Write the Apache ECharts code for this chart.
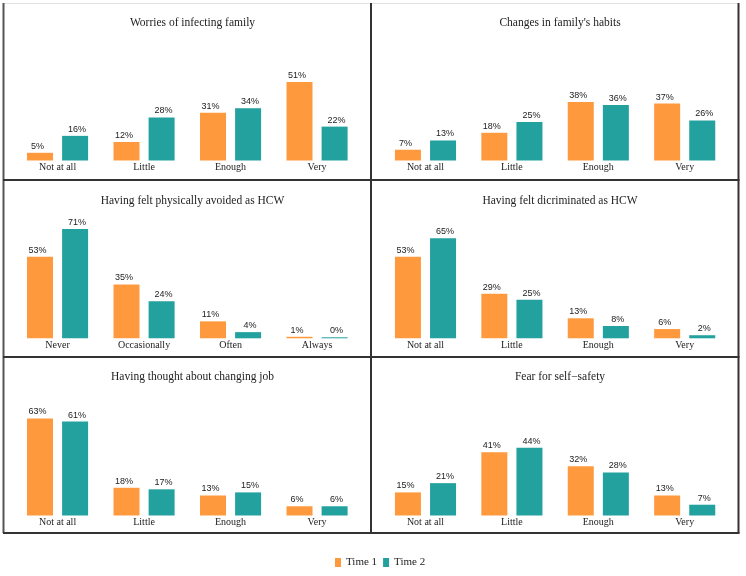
<!DOCTYPE html>
<html>
<head>
<meta charset="utf-8">
<script src="https://cdn.jsdelivr.net/npm/echarts@6/dist/echarts.min.js"></script>
<style>html,body{margin:0;padding:0;background:#fff}#c{width:746px;height:576px}</style>
</head>
<body>
<div id="c"></div>
<script>
var catsA = ['Not at all', 'Little', 'Enough', 'Very'];
var catsB = ['Never', 'Occasionally', 'Often', 'Always'];
var titles = ['Worries of infecting family', "Changes in family's habits", 'Having felt physically avoided as HCW', 'Having felt dicriminated as HCW', 'Having thought about changing job', 'Fear for self\u2212safety'];
var panelCats = [catsA, catsA, catsB, catsA, catsA, catsA];
var time1 = [
  [5, 12, 31, 51],
  [7, 18, 38, 37],
  [53, 35, 11, 1],
  [53, 29, 13, 6],
  [63, 18, 13, 6],
  [15, 41, 32, 13]
];
var time2 = [
  [16, 28, 34, 22],
  [13, 25, 36, 26],
  [71, 24, 4, 0],
  [65, 25, 8, 2],
  [61, 17, 15, 6],
  [21, 44, 28, 7]
];
var seriesNames = ['Time 1', 'Time 2'];

var ORANGE = '#FE9A3D', TEAL = '#22A19E';
var colLeft = [14.3, 382.3], colWidth = [346, 345.6];
var baselines = [160.5, 338.3, 515.5];
var titleY = [19, 196.5, 373.3];
var colCenter = [187.5, 555];
var plotH = 154;

var grids = [], xAxes = [], yAxes = [], series = [], tts = [];
for (var i = 0; i < 6; i++) {
  var r = Math.floor(i / 2), c = i % 2;
  grids.push({left: colLeft[c], width: colWidth[c], top: baselines[r] - plotH, height: plotH});
  xAxes.push({type: 'category', gridIndex: i, data: panelCats[i],
    axisLine: {show: false}, axisTick: {show: false}, splitLine: {show: false},
    axisLabel: {margin: 2, fontFamily: 'Liberation Serif', fontSize: 10, color: '#222'}});
  yAxes.push({type: 'value', gridIndex: i, min: 0, max: 100, show: false});
  tts.push({text: titles[i], left: colCenter[c], top: titleY[r] - 7, textAlign: 'center',
    textStyle: {fontFamily: 'Liberation Serif', fontSize: 11.5, fontWeight: 'normal', color: '#222'}});
  [time1[i], time2[i]].forEach(function (vals, s) {
    series.push({
      name: seriesNames[s], type: 'bar', xAxisIndex: i, yAxisIndex: i, data: vals,
      barWidth: 26, barGap: '35%', barMinHeight: 1,
      itemStyle: {color: s === 0 ? ORANGE : TEAL},
      label: {show: true, position: 'top', distance: 2, offset: [s === 0 ? -2.5 : 2, 0],
        formatter: '{c}%', fontFamily: 'Liberation Sans', fontSize: 9, color: '#222'},
      emphasis: {disabled: true}, animation: false
    });
  });
}

var lineStyle = {stroke: '#333', lineWidth: 2};
var graphics = [
  {type: 'line', shape: {x1: 4, y1: 3.5, x2: 739, y2: 3.5}, style: {stroke: '#e2e2e2', lineWidth: 1}},
  {type: 'line', shape: {x1: 3.5, y1: 3, x2: 3.5, y2: 533}, style: {stroke: '#555', lineWidth: 2}},
  {type: 'line', shape: {x1: 738.5, y1: 3, x2: 738.5, y2: 533}, style: lineStyle},
  {type: 'line', shape: {x1: 3, y1: 533, x2: 739.5, y2: 533}, style: lineStyle},
  {type: 'line', shape: {x1: 371, y1: 3, x2: 371, y2: 533}, style: lineStyle},
  {type: 'line', shape: {x1: 3, y1: 180, x2: 739.5, y2: 180}, style: lineStyle},
  {type: 'line', shape: {x1: 3, y1: 357, x2: 739.5, y2: 357}, style: lineStyle}
];

var chart = echarts.init(document.getElementById('c'), null, {renderer: 'canvas'});
chart.setOption({
  backgroundColor: '#fff',
  animation: false,
  title: tts,
  grid: grids,
  xAxis: xAxes,
  yAxis: yAxes,
  series: series,
  legend: {data: seriesNames, left: 330, top: 552, icon: 'rect', itemWidth: 6, itemHeight: 9, itemGap: 6,
    textStyle: {fontFamily: 'Liberation Serif', fontSize: 11, color: '#222'}},
  graphic: graphics
});
</script>
</body>
</html>
